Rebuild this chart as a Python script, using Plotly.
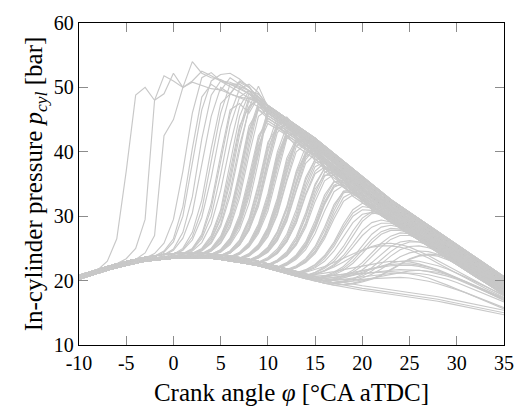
import plotly.graph_objects as go

# ---------------- data ----------------
crank_angle = list(range(-10, 36))  # degrees CA aTDC, 1 deg sampling

# motored / non-fired pressure traces (bar), -10 ... 35
motored_a = [20.5, 21.0, 21.5, 21.9, 22.3, 22.7, 23.0, 23.3, 23.5, 23.7,
             23.8, 23.9, 23.9, 23.9, 23.8, 23.6, 23.4, 23.2, 22.9, 22.6,
             22.2, 21.8, 21.4, 21.0, 20.6, 20.2, 19.9, 19.6, 19.3, 19.0,
             18.8, 18.6, 18.4, 18.2, 18.0, 17.8, 17.6, 17.3, 17.1, 16.8,
             16.5, 16.2, 15.9, 15.6, 15.3, 15.0]
motored_b = [20.8, 21.3, 21.8, 22.2, 22.6, 23.0, 23.3, 23.6, 23.9, 24.1,
             24.2, 24.3, 24.3, 24.3, 24.2, 24.0, 23.8, 23.6, 23.3, 23.0,
             22.6, 22.2, 21.8, 21.4, 21.0, 20.6, 20.3, 20.0, 19.7, 19.4,
             19.2, 19.0, 18.8, 18.6, 18.4, 18.2, 18.0, 17.7, 17.5, 17.2,
             16.9, 16.6, 16.3, 16.0, 15.7, 15.4]
motored_c = [20.2, 20.7, 21.2, 21.6, 22.0, 22.4, 22.7, 23.0, 23.2, 23.4,
             23.5, 23.6, 23.6, 23.6, 23.5, 23.3, 23.1, 22.9, 22.6, 22.3,
             21.9, 21.5, 21.1, 20.7, 20.3, 19.9, 19.6, 19.3, 19.0, 18.7,
             18.5, 18.3, 18.1, 17.9, 17.7, 17.5, 17.3, 17.0, 16.8, 16.5,
             16.2, 15.9, 15.6, 15.3, 15.0, 14.7]
motored = [motored_a, motored_b, motored_c]

# expansion tails (bar) for crank angles 10 ... 35
tails = {
    "a": [47.2, 46.2, 45.1, 44.1, 43.1, 42.1, 40.9, 39.7, 38.5, 37.3, 36.1, 34.9, 33.7,
          32.6, 31.6, 30.6, 29.5, 28.5, 27.5, 26.5, 25.5, 24.5, 23.5, 22.5, 21.5, 20.6],
    "ab": [46.9, 45.9, 44.8, 43.8, 42.8, 41.8, 40.6, 39.4, 38.2, 37.0, 35.8, 34.6, 33.5,
           32.4, 31.4, 30.4, 29.3, 28.3, 27.3, 26.3, 25.3, 24.3, 23.3, 22.3, 21.3, 20.4],
    "b": [46.6, 45.6, 44.5, 43.5, 42.5, 41.5, 40.3, 39.1, 37.9, 36.7, 35.5, 34.3, 33.2,
          32.1, 31.1, 30.1, 29.1, 28.1, 27.1, 26.1, 25.1, 24.1, 23.1, 22.1, 21.1, 20.2],
    "bc": [46.3, 45.3, 44.3, 43.3, 42.3, 41.2, 40.0, 38.8, 37.6, 36.5, 35.3, 34.1, 33.0,
           31.9, 30.9, 29.9, 28.9, 27.9, 26.9, 25.9, 24.9, 23.9, 22.9, 21.9, 20.9, 20.0],
    "c": [46.0, 45.0, 44.0, 43.0, 42.0, 40.9, 39.7, 38.5, 37.3, 36.2, 35.0, 33.8, 32.7,
          31.6, 30.6, 29.6, 28.6, 27.6, 26.6, 25.6, 24.6, 23.6, 22.6, 21.7, 20.7, 19.8],
    "cd": [45.6, 44.7, 43.7, 42.7, 41.7, 40.6, 39.4, 38.2, 37.1, 35.9, 34.8, 33.6, 32.5,
           31.4, 30.4, 29.4, 28.4, 27.4, 26.4, 25.4, 24.4, 23.4, 22.5, 21.5, 20.5, 19.6],
    "d": [45.2, 44.3, 43.3, 42.3, 41.3, 40.2, 39.0, 37.9, 36.8, 35.6, 34.5, 33.3, 32.2,
          31.2, 30.2, 29.2, 28.2, 27.2, 26.2, 25.2, 24.2, 23.2, 22.3, 21.3, 20.3, 19.4],
    "de": [44.8, 43.9, 43.0, 42.0, 41.0, 39.9, 38.8, 37.7, 36.6, 35.4, 34.3, 33.1, 32.0,
           31.0, 30.0, 29.0, 28.0, 27.0, 26.0, 25.0, 24.0, 23.0, 22.1, 21.1, 20.1, 19.2],
    "e": [44.4, 43.5, 42.6, 41.6, 40.6, 39.6, 38.5, 37.4, 36.3, 35.1, 34.0, 32.9, 31.8,
          30.8, 29.8, 28.8, 27.8, 26.8, 25.8, 24.8, 23.8, 22.8, 21.9, 20.9, 19.9, 19.0],
    "ef": [44.0, 43.1, 42.2, 41.3, 40.3, 39.3, 38.2, 37.1, 36.0, 34.8, 33.7, 32.6, 31.6,
           30.6, 29.6, 28.6, 27.6, 26.6, 25.6, 24.6, 23.6, 22.6, 21.7, 20.7, 19.7, 18.8],
    "f": [43.5, 42.7, 41.8, 40.9, 39.9, 38.9, 37.8, 36.7, 35.6, 34.5, 33.4, 32.3, 31.3,
          30.3, 29.3, 28.3, 27.3, 26.3, 25.3, 24.3, 23.3, 22.4, 21.4, 20.5, 19.5, 18.6],
    "fg": [43.0, 42.2, 41.4, 40.5, 39.5, 38.5, 37.4, 36.3, 35.2, 34.2, 33.1, 32.0, 31.0,
           30.0, 29.0, 28.1, 27.1, 26.1, 25.1, 24.1, 23.1, 22.2, 21.2, 20.3, 19.3, 18.4],
    "g": [42.5, 41.7, 40.9, 40.0, 39.1, 38.1, 37.0, 35.9, 34.8, 33.8, 32.7, 31.7, 30.7,
          29.7, 28.7, 27.8, 26.8, 25.8, 24.8, 23.8, 22.9, 21.9, 21.0, 20.0, 19.1, 18.2],
    "gh": [42.0, 41.2, 40.4, 39.5, 38.6, 37.7, 36.6, 35.5, 34.5, 33.5, 32.4, 31.4, 30.4,
           29.4, 28.5, 27.5, 26.6, 25.6, 24.6, 23.6, 22.7, 21.7, 20.8, 19.9, 18.9, 18.0],
    "h": [41.5, 40.7, 39.9, 39.0, 38.1, 37.2, 36.1, 35.1, 34.1, 33.1, 32.1, 31.1, 30.1,
          29.1, 28.2, 27.2, 26.3, 25.3, 24.4, 23.4, 22.5, 21.5, 20.6, 19.7, 18.7, 17.8],
}
tail_start_angle = 10

# fired cycles: angle where the trace leaves the motored line,
# pressures from there on, and the expansion tail it joins (None = runs to 35)
cycle_start = [-8, -6, -4, -3, -2, -2, -1, -1, 0, 0, 0, 1, 1, 1,
               2, 2, 2, 2, 3, 3, 3, 3, 4, 4, 4, 4, 5, 5, 5, 5,
               6, 6, 6, 6, 7, 7, 7, 7, 8, 8, 8, 8, 9, 9, 9,
               10, 10, 10, 11, 11, 11, 12, 12, 12,
               13, 13, 14, 14, 15, 15, 16, 16, 17, 18,
               14, 15, 15, 16, 15, 13, 14,
               1, 2, 2, 3, 3, 3, 4, 4, 4, 4, 5, 5, 5, 5,
               6, 6, 6, 6, 7, 7, 7, 7, 8, 8, 8, 8, 9, 9, 9,
               10, 10, 10, 11, 11, 11, 12, 12,
               13, 13, 14, 14, 15, 16, 17, 17, 18,
               16, 15, 17, 14]
cycle_tail = ["b", "a", "c", "a", "a", "b", "b", "c", "b", "c", "a", "c", "b", "a",
              "c", "d", "a", "b", "c", "d", "b", "a", "c", "d", "b", "e", "c", "b", "d", "e",
              "c", "d", "d", "f", "d", "e", "e", "f", "e", "f", "e", "g", "f", "e", "f",
              "f", "f", "g", "f", "g", "h", "h", "g", "h",
              None, None, None, None, None, None, None, None, None, None,
              None, None, None, None, None, None, None,
              "ab", "ab", "bc", "ab", "bc", "cd", "ab", "bc", "cd", "de", "ab", "bc", "cd", "de",
              "bc", "cd", "de", "ef", "cd", "de", "ef", "fg", "de", "ef", "fg", "gh",
              "ef", "fg", "gh", "ef", "fg", "gh", "fg", "gh", "h", "gh", "h",
              None, None, None, None, None, None, None, None, None,
              None, None, None, None]
cycle_rise = [
    [21.7, 23.0, 26.5, 37.0, 48.8, 50.0, 48.0, 49.0, 52.2, 50.0, 50.8, 50.3, 49.8, 49.6, 49.0, 48.5, 47.8, 47.0],
    [22.6, 23.4, 25.0, 29.5, 48.0, 51.8, 51.0, 50.0, 54.0, 52.2, 51.5, 51.2, 50.5, 49.8, 49.0, 48.0],
    [23.3, 24.3, 27.0, 42.5, 45.0, 50.0, 51.0, 52.5, 51.8, 51.0, 50.2, 49.3, 48.3, 47.6],
    [23.5, 24.2, 25.8, 29.5, 37.0, 46.0, 51.5, 52.3, 51.0, 50.8, 50.2, 49.5, 48.5],
    [23.7, 24.4, 26.0, 30.0, 38.0, 46.5, 51.0, 52.0, 52.2, 51.3, 50.0, 48.4],
    [23.8, 24.6, 26.5, 31.5, 40.5, 48.5, 50.5, 49.5, 51.5, 50.5, 49.5, 48.0],
    [23.9, 24.7, 26.6, 30.5, 38.0, 45.5, 50.0, 49.0, 51.0, 50.2, 48.0],
    [24.0, 24.9, 27.5, 33.0, 42.0, 48.8, 51.0, 50.5, 50.5, 49.5, 47.6],
    [24.0, 24.8, 26.8, 31.0, 38.5, 46.0, 50.5, 50.0, 49.0, 48.0],
    [24.1, 25.0, 27.5, 32.5, 40.5, 47.5, 49.0, 48.5, 49.5, 47.5],
    [24.0, 24.7, 26.3, 29.8, 36.0, 43.5, 49.0, 50.8, 50.0, 48.5],
    [24.1, 24.8, 26.5, 30.0, 36.5, 44.0, 48.5, 48.2, 48.0],
    [24.2, 25.0, 27.2, 32.0, 39.5, 46.5, 47.5, 46.0, 48.5],
    [24.0, 24.6, 25.9, 28.8, 34.0, 41.0, 47.0, 49.5, 49.0],
    [24.1, 24.8, 26.4, 29.8, 36.0, 43.5, 48.5, 48.0],
    [24.2, 25.0, 27.0, 31.0, 38.0, 45.5, 49.0, 47.5],
    [24.1, 24.7, 26.0, 28.8, 34.0, 41.0, 46.5, 49.0],
    [24.2, 24.9, 26.7, 30.5, 37.0, 44.0, 47.0, 48.2],
    [24.1, 24.8, 26.3, 29.5, 35.5, 42.5, 47.0],
    [24.2, 25.0, 26.9, 30.6, 37.0, 44.0, 46.5],
    [24.0, 24.6, 25.8, 28.3, 32.8, 39.5, 45.5],
    [24.1, 24.7, 26.2, 29.2, 34.5, 41.5, 47.5],
    [24.0, 24.6, 26.0, 28.8, 33.5, 40.0],
    [24.1, 24.8, 26.5, 29.8, 35.5, 42.0],
    [23.9, 24.4, 25.6, 27.9, 32.0, 38.5],
    [24.0, 24.7, 26.2, 29.3, 34.5, 41.0],
    [23.8, 24.4, 25.7, 28.2, 32.5, 39.0, 44.5, 44.8],
    [23.9, 24.6, 26.2, 29.3, 34.5, 41.0, 45.5],
    [23.7, 24.3, 25.5, 27.8, 31.5, 37.5, 43.0, 44.5],
    [23.8, 24.5, 26.0, 29.0, 33.8, 40.5, 44.0],
    [23.6, 24.2, 25.4, 27.8, 31.8, 38.0, 43.0, 44.0],
    [23.7, 24.4, 25.9, 28.8, 33.5, 40.0, 44.0],
    [23.5, 24.1, 25.2, 27.3, 30.8, 36.5, 42.0, 43.5],
    [23.6, 24.3, 25.6, 28.2, 32.5, 39.0, 42.5],
    [23.4, 24.0, 25.2, 27.5, 31.3, 37.0, 41.8, 43.0],
    [23.5, 24.2, 25.6, 28.3, 32.8, 39.0, 42.0],
    [23.3, 23.9, 25.0, 27.0, 30.5, 35.8, 40.8, 42.3],
    [23.4, 24.1, 25.4, 27.9, 32.0, 38.0, 41.5, 41.8],
    [23.1, 23.7, 24.8, 26.9, 30.3, 35.5, 40.0, 41.5],
    [23.2, 23.9, 25.2, 27.6, 31.5, 37.0, 40.8, 41.0],
    [23.0, 23.5, 24.5, 26.3, 29.5, 34.3, 38.8, 40.6, 39.0],
    [23.1, 23.8, 25.0, 27.3, 31.0, 36.3, 39.8, 40.5],
    [22.8, 23.4, 24.5, 26.5, 29.8, 34.8, 38.3, 38.6],
    [22.9, 23.6, 24.9, 27.2, 31.0, 36.0, 38.8, 39.0],
    [22.7, 23.3, 24.3, 26.1, 29.0, 33.5, 37.0, 38.3, 37.8],
    [22.4, 23.0, 24.0, 25.9, 29.0, 33.6, 36.8, 37.5],
    [22.5, 23.2, 24.5, 26.8, 30.5, 35.0, 37.4, 37.0],
    [22.3, 22.9, 23.8, 25.5, 28.3, 32.3, 35.5, 36.5, 36.0],
    [22.0, 22.6, 23.6, 25.3, 28.2, 32.0, 34.8, 35.5, 35.0],
    [22.1, 22.8, 24.0, 26.0, 29.3, 33.3, 35.4, 35.2],
    [21.9, 22.4, 23.3, 24.8, 27.3, 30.8, 33.8, 34.8, 34.3],
    [21.6, 22.1, 23.0, 24.6, 27.2, 30.8, 33.6, 34.0, 33.3],
    [21.7, 22.3, 23.4, 25.3, 28.3, 31.8, 33.8, 33.6],
    [21.5, 22.0, 22.8, 24.2, 26.5, 29.6, 32.3, 33.3, 32.9, 32.0],
    [21.2, 21.7, 22.5, 23.9, 26.0, 28.8, 31.0, 32.0, 31.6, 30.8, 29.9, 29.0, 28.1, 27.2,
     26.3, 25.4, 24.5, 23.6, 22.7, 21.9, 21.0, 20.2, 19.4],
    [21.1, 21.5, 22.2, 23.4, 25.3, 27.8, 30.0, 31.0, 30.9, 30.2, 29.4, 28.5, 27.6, 26.7,
     25.8, 24.9, 24.0, 23.1, 22.2, 21.3, 20.4, 19.6, 18.8],
    [20.8, 21.2, 21.9, 23.0, 24.7, 27.0, 29.2, 30.4, 30.5, 30.0, 29.3, 28.5, 27.6, 26.7,
     25.8, 24.9, 24.0, 23.1, 22.2, 21.3, 20.4, 19.5],
    [20.7, 21.0, 21.6, 22.5, 23.9, 25.8, 27.8, 29.0, 29.4, 29.1, 28.5, 27.8, 27.0, 26.1,
     25.2, 24.3, 23.4, 22.5, 21.6, 20.7, 19.8, 19.0],
    [20.4, 20.7, 21.3, 22.2, 23.6, 25.4, 27.2, 28.3, 28.6, 28.3, 27.7, 27.0, 26.2, 25.4,
     24.5, 23.6, 22.7, 21.8, 20.9, 20.0, 19.1],
    [20.3, 20.5, 20.9, 21.6, 22.7, 24.2, 25.9, 27.2, 27.8, 27.8, 27.4, 26.8, 26.1, 25.3,
     24.5, 23.7, 22.8, 21.9, 21.0, 20.1, 19.2],
    [20.0, 20.2, 20.6, 21.3, 22.3, 23.7, 25.2, 26.4, 27.0, 27.0, 26.6, 26.0, 25.3, 24.5,
     23.7, 22.8, 21.9, 21.0, 20.1, 19.2],
    [19.9, 20.1, 20.4, 20.9, 21.7, 22.8, 24.1, 25.3, 26.0, 26.2, 26.0, 25.5, 24.8, 24.0,
     23.2, 22.4, 21.5, 20.6, 19.7, 18.8],
    [19.7, 19.9, 20.2, 20.7, 21.5, 22.6, 23.8, 24.8, 25.3, 25.4, 25.1, 24.6, 23.9, 23.1,
     22.3, 21.4, 20.5, 19.6, 18.7],
    [19.4, 19.6, 19.9, 20.3, 20.9, 21.7, 22.6, 23.4, 23.9, 24.1, 24.0, 23.6, 23.0, 22.3,
     21.5, 20.7, 19.8, 19.0],
    [20.7, 20.9, 21.1, 21.4, 21.7, 22.0, 22.3, 22.6, 22.8, 23.0, 23.0, 22.9, 22.6, 22.2,
     21.7, 21.1, 20.5, 19.8, 19.1, 18.4, 17.7, 17.0],
    [20.3, 20.5, 20.7, 21.0, 21.3, 21.6, 21.9, 22.1, 22.3, 22.4, 22.4, 22.2, 21.9, 21.5,
     21.0, 20.4, 19.8, 19.2, 18.5, 17.8, 17.2],
    [20.2, 20.3, 20.5, 20.7, 20.9, 21.1, 21.3, 21.5, 21.6, 21.7, 21.7, 21.6, 21.4, 21.1,
     20.7, 20.2, 19.6, 19.0, 18.4, 17.7, 17.0],
    [19.9, 20.0, 20.2, 20.4, 20.6, 20.8, 21.0, 21.1, 21.2, 21.2, 21.1, 20.9, 20.6, 20.2,
     19.7, 19.1, 18.5, 17.9, 17.3, 16.7],
    [20.1, 20.1, 20.1, 20.1, 20.1, 20.2, 20.3, 20.4, 20.5, 20.5, 20.4, 20.2, 19.9, 19.5,
     19.1, 18.6, 18.1, 17.5, 16.9, 16.4, 15.8],
    [21.0, 21.3, 21.7, 22.2, 22.8, 23.5, 24.2, 24.8, 25.2, 25.4, 25.4, 25.2, 24.8, 24.2,
     23.5, 22.7, 21.9, 21.1, 20.3, 19.5, 18.8, 18.1, 17.4],
    [20.7, 21.0, 21.5, 22.1, 22.9, 23.8, 24.6, 25.3, 25.7, 25.8, 25.6, 25.2, 24.6, 23.9,
     23.1, 22.3, 21.5, 20.7, 19.9, 19.1, 18.3, 17.6],
    # second batch of fired cycles
    [24.1, 24.9, 26.9, 31.2, 38.5, 45.8, 49.8, 50.5, 49.2],
    [24.0, 24.6, 25.8, 28.4, 33.2, 40.2, 46.8, 50.2],
    [24.1, 24.8, 26.3, 29.5, 35.2, 42.6, 48.0, 48.6],
    [24.0, 24.6, 25.9, 28.7, 33.6, 40.6, 46.8],
    [24.1, 24.8, 26.5, 30.0, 36.2, 43.2, 47.6],
    [24.1, 24.9, 26.6, 30.2, 36.4, 43.3, 46.6],
    [23.9, 24.5, 25.8, 28.4, 33.0, 39.6],
    [24.0, 24.7, 26.3, 29.5, 35.0, 41.6],
    [24.0, 24.6, 26.0, 29.0, 34.0, 40.5],
    [24.1, 24.8, 26.6, 30.2, 36.2, 42.5],
    [23.8, 24.3, 25.5, 27.9, 32.0, 38.2, 44.0, 45.4],
    [23.8, 24.4, 25.8, 28.6, 33.3, 40.0, 44.6],
    [23.7, 24.3, 25.6, 28.0, 32.1, 38.5, 43.6, 44.3],
    [23.9, 24.6, 26.3, 29.6, 35.0, 41.5, 43.9],
    [23.6, 24.2, 25.5, 28.0, 32.3, 38.8, 43.3, 44.1],
    [23.5, 24.1, 25.3, 27.6, 31.4, 37.4, 42.4, 43.4],
    [23.6, 24.3, 25.7, 28.5, 33.0, 39.5, 43.0],
    [23.6, 24.2, 25.5, 28.0, 32.2, 38.5, 42.2],
    [23.3, 23.9, 25.1, 27.3, 31.0, 36.6, 41.5, 42.6],
    [23.4, 24.0, 25.3, 27.7, 31.7, 37.5, 41.6, 42.2],
    [23.4, 24.1, 25.5, 28.1, 32.4, 38.5, 41.6],
    [23.3, 23.8, 24.9, 26.8, 30.2, 35.4, 40.0, 41.2],
    [23.1, 23.6, 24.7, 26.7, 30.0, 35.0, 39.5, 41.0],
    [23.0, 23.6, 24.6, 26.6, 29.9, 35.0, 39.2, 40.4],
    [23.2, 23.8, 25.1, 27.5, 31.3, 36.7, 39.9, 40.1],
    [23.0, 23.5, 24.4, 26.2, 29.2, 33.9, 38.2, 39.7, 37.8],
    [22.8, 23.4, 24.6, 26.8, 30.4, 35.5, 38.8, 39.2],
    [22.8, 23.3, 24.3, 26.2, 29.4, 34.2, 37.7, 38.4],
    [22.7, 23.2, 24.2, 26.0, 28.9, 33.2, 36.6, 37.6, 37.0],
    [22.4, 23.1, 24.3, 26.4, 30.0, 34.7, 37.5, 37.8],
    [22.3, 22.9, 23.9, 25.7, 28.7, 33.0, 36.2, 37.0, 36.3],
    [22.4, 23.0, 24.2, 26.3, 29.8, 34.2, 36.4, 36.3],
    [22.0, 22.7, 23.8, 25.7, 28.8, 32.8, 35.3, 35.6],
    [21.9, 22.5, 23.5, 25.2, 28.0, 31.8, 34.5, 35.2, 34.6],
    [22.0, 22.6, 23.7, 25.5, 28.5, 32.3, 34.7, 34.9],
    [21.6, 22.2, 23.2, 25.0, 27.8, 31.4, 33.9, 34.1],
    [21.5, 22.0, 22.9, 24.4, 26.9, 30.2, 32.9, 33.7, 33.1],
    [21.1, 21.6, 22.4, 23.7, 25.7, 28.3, 30.5, 31.5, 31.3, 30.6, 29.8, 28.9, 28.0, 27.1,
     26.2, 25.3, 24.4, 23.5, 22.6, 21.7, 20.8, 20.0, 19.1],
    [21.0, 21.4, 22.0, 23.0, 24.6, 26.8, 29.0, 30.3, 30.6, 30.2, 29.5, 28.7, 27.8, 26.9,
     26.0, 25.1, 24.2, 23.3, 22.4, 21.5, 20.6, 19.7, 18.9],
    [20.8, 21.3, 22.1, 23.4, 25.3, 27.7, 29.7, 30.7, 30.7, 30.2, 29.4, 28.6, 27.7, 26.8,
     25.9, 25.0, 24.1, 23.2, 22.3, 21.4, 20.5, 19.7],
    [20.7, 21.0, 21.5, 22.3, 23.5, 25.2, 27.0, 28.3, 28.9, 28.9, 28.5, 27.9, 27.2, 26.4,
     25.5, 24.6, 23.7, 22.8, 21.9, 21.0, 20.1, 19.3],
    [20.3, 20.6, 21.1, 21.9, 23.1, 24.7, 26.4, 27.6, 28.1, 28.0, 27.6, 27.0, 26.3, 25.5,
     24.6, 23.7, 22.8, 21.9, 21.0, 20.1, 19.2],
    [20.0, 20.3, 20.8, 21.6, 22.8, 24.3, 25.8, 26.9, 27.4, 27.3, 26.9, 26.3, 25.6, 24.8,
     23.9, 23.0, 22.1, 21.2, 20.3, 19.4],
    [19.7, 19.9, 20.3, 21.0, 22.0, 23.2, 24.5, 25.5, 26.0, 26.0, 25.7, 25.1, 24.4, 23.6,
     22.7, 21.8, 20.9, 20.0, 19.1],
    [19.6, 19.8, 20.0, 20.4, 21.0, 21.8, 22.8, 23.7, 24.3, 24.6, 24.5, 24.1, 23.5, 22.8,
     22.0, 21.2, 20.4, 19.6, 18.8],
    [19.4, 19.5, 19.8, 20.2, 20.8, 21.6, 22.5, 23.3, 23.8, 24.0, 23.8, 23.3, 22.7, 22.0,
     21.2, 20.4, 19.6, 18.8],
    [19.9, 20.1, 20.4, 20.8, 21.3, 21.8, 22.3, 22.7, 23.0, 23.1, 23.0, 22.7, 22.3, 21.8,
     21.2, 20.5, 19.8, 19.1, 18.4, 17.7],
    [20.2, 20.3, 20.5, 20.8, 21.1, 21.5, 21.9, 22.2, 22.5, 22.6, 22.6, 22.4, 22.1, 21.6,
     21.0, 20.4, 19.7, 19.0, 18.3, 17.6, 16.9],
    [19.6, 19.7, 19.9, 20.1, 20.4, 20.7, 21.0, 21.3, 21.5, 21.6, 21.5, 21.3, 20.9, 20.4,
     19.8, 19.2, 18.5, 17.9, 17.3],
    [20.6, 20.7, 20.8, 20.9, 21.0, 21.1, 21.2, 21.3, 21.4, 21.4, 21.3, 21.1, 20.8, 20.4,
     19.9, 19.3, 18.7, 18.1, 17.4, 16.8, 16.2, 15.6],
]

x_ticks = [-10, -5, 0, 5, 10, 15, 20, 25, 30, 35]
x_tick_labels = ["-10", "-5", "0", "5", "10", "15", "20", "25", "30", "35"]
y_ticks = [10, 20, 30, 40, 50, 60]
y_tick_labels = ["10", "20", "30", "40", "50", "60"]

# ---------------- assemble traces ----------------
first_angle = crank_angle[0]
last_angle = crank_angle[-1]
traces_y = [list(m) for m in motored]
for i, (s, rise, tk) in enumerate(zip(cycle_start, cycle_rise, cycle_tail)):
    base = motored[i % 3]
    y = list(base[: s - first_angle]) + list(rise)
    if tk is not None:
        end_angle = s + len(rise) - 1
        y += tails[tk][end_angle + 1 - tail_start_angle:]
    traces_y.append(y[: last_angle - first_angle + 1])

LINE = "rgb(200,200,200)"
fig = go.Figure()
for y in traces_y:
    fig.add_trace(go.Scatter(x=crank_angle[: len(y)], y=y, mode="lines",
                             line=dict(color=LINE, width=1.15),
                             showlegend=False, hoverinfo="skip"))

FONT = "Liberation Serif, Times New Roman, serif"
TICKFONT = dict(family=FONT, size=20, color="black")
axis_common = dict(showline=True, linecolor="black", linewidth=1.3, mirror="ticks",
                   ticks="inside", ticklen=9, tickwidth=1, tickcolor="#8c8c8c",
                   showgrid=False, zeroline=False)
fig.update_layout(
    width=526, height=414,
    margin=dict(l=79, r=15, t=14, b=63),
    paper_bgcolor="white", plot_bgcolor="white",
    font=dict(family=FONT, color="black", size=20),
    xaxis=dict(range=[-10, 35], tickvals=x_ticks, ticktext=x_tick_labels,
               tickfont=TICKFONT,
               title=dict(text="Crank angle <i>φ</i> [°CA aTDC]",
                          font=dict(family=FONT, size=25), standoff=10),
               **axis_common),
    yaxis=dict(range=[10, 60], tickvals=y_ticks, ticktext=y_tick_labels,
               tickfont=TICKFONT,
               title=dict(text="In-cylinder pressure <i>p</i><sub><i>cyl</i></sub> [bar]",
                          font=dict(family=FONT, size=25), standoff=4),
               **axis_common),
)
fig.write_html("out.html")
